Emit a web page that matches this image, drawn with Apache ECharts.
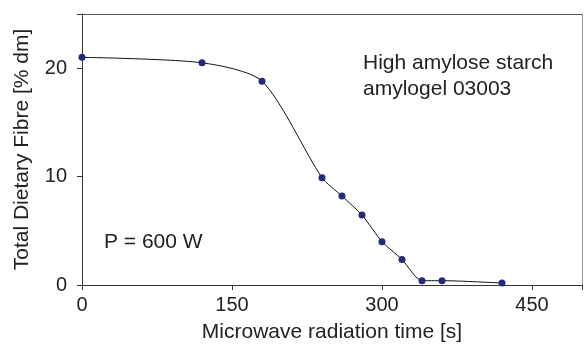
<!DOCTYPE html>
<html><head><meta charset="utf-8">
<script src="https://cdn.jsdelivr.net/npm/echarts@6/dist/echarts.min.js"></script>
<style>html,body{margin:0;padding:0;background:#fff}#c{width:585px;height:348px}</style>
</head><body><div id="c"></div>
<script>
const timeS = [0, 120, 180, 240, 260, 280, 300, 320, 340, 360, 420];
const tdf = [21.0, 20.5, 18.8, 9.9, 8.2, 6.45, 4.0, 2.35, 0.4, 0.4, 0.18];
const xTicks = [0, 150, 300, 450];
const yTicks = [0, 10, 20];
const FONT = '"Liberation Sans", Arial, Helvetica, sans-serif';
const chart = echarts.init(document.getElementById('c'));
const frameAxis = (color) => ({
  type: 'value', min: 0, show: true, axisLine: {show: true, onZero: false, lineStyle: {color: color, width: 1}},
  axisTick: {show: false}, axisLabel: {show: false}, splitLine: {show: false}
});
chart.setOption({
  animation: false,
  grid: {left: 82, right: 1, top: 14, bottom: 61},
  xAxis: [{
    type: 'value', min: 0, max: 500, interval: 150,
    name: 'Microwave radiation time [s]', nameLocation: 'middle', nameGap: 37,
    nameTextStyle: {fontFamily: FONT, fontSize: 21, color: '#222'},
    axisLine: {show: true, onZero: false, lineStyle: {color: '#333', width: 1}},
    axisTick: {show: true, length: 5, inside: false, lineStyle: {color: '#333'}},
    axisLabel: {fontFamily: FONT, fontSize: 20, color: '#222', margin: 10,
      formatter: v => xTicks.includes(v) ? String(v) : ''},
    splitLine: {show: false}
  }, Object.assign(frameAxis('#555'), {position: 'top', max: 500})],
  yAxis: [{
    type: 'value', min: 0, max: 25, interval: 10,
    name: 'Total Dietary Fibre [% dm]', nameLocation: 'middle', nameGap: 49,
    nameTextStyle: {fontFamily: FONT, fontSize: 21, color: '#222'},
    axisLine: {show: true, onZero: false, lineStyle: {color: '#333', width: 1}},
    axisTick: {show: true, length: 5, inside: false, lineStyle: {color: '#333'}},
    axisLabel: {fontFamily: FONT, fontSize: 20, color: '#222', margin: 15,
      formatter: v => yTicks.includes(v) ? String(v) : ''},
    splitLine: {show: false}
  }, Object.assign(frameAxis('#999'), {position: 'right', max: 25})],
  series: [{
    type: 'line',
    data: timeS.map((t, i) => [t, tdf[i]]),
    smooth: 0.25,
    symbol: 'circle', symbolSize: 7,
    itemStyle: {color: '#232a7c'},
    lineStyle: {color: '#111', width: 1}
  }],
  graphic: [
    {type: 'text', left: 363, top: 50, style: {text: 'High amylose starch\namylogel 03003', font: '21px ' + FONT, fill: '#222', lineHeight: 26}},
    {type: 'text', left: 104, top: 229, style: {text: 'P = 600 W', font: '21px ' + FONT, fill: '#222', lineHeight: 26}}
  ]
});
</script></body></html>
